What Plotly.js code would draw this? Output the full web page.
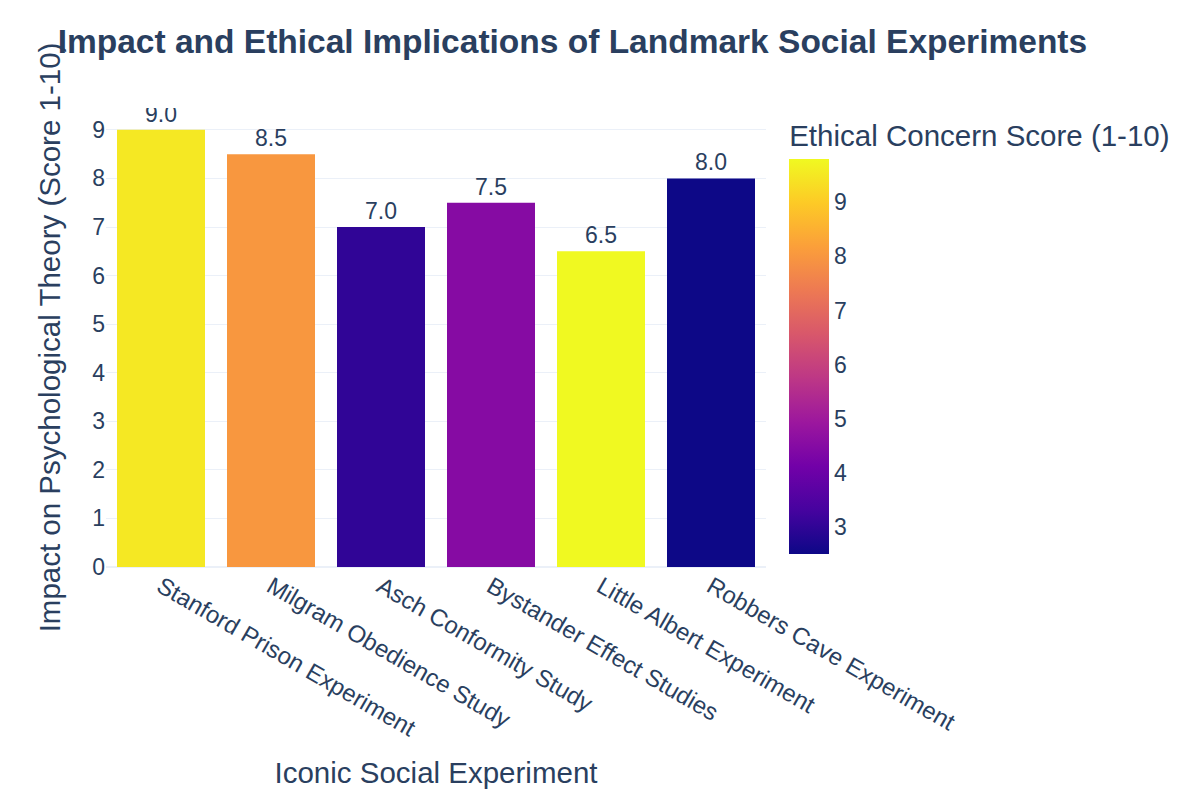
<!DOCTYPE html>
<html>
<head>
<meta charset="utf-8">
<script src="https://cdn.plot.ly/plotly-3.0.1.min.js"></script>
<style>
  html, body { margin: 0; padding: 0; background: #ffffff; }
  #chart { width: 1200px; height: 800px; }
</style>
</head>
<body>
<div id="chart"></div>
<script>
// Landmark social experiments: impact on theory vs. ethical concern
const experiments = [
  "Stanford Prison Experiment",
  "Milgram Obedience Study",
  "Asch Conformity Study",
  "Bystander Effect Studies",
  "Little Albert Experiment",
  "Robbers Cave Experiment"
];
const impactScores = [9.0, 8.5, 7.0, 7.5, 6.5, 8.0];
const ethicalScores = [9.5, 8.0, 3.0, 4.5, 9.8, 2.5];
const yTickValues = [0, 1, 2, 3, 4, 5, 6, 7, 8, 9];

// Plasma colour ramp
const plasmaScale = [
  [0.0, "#0d0887"], [0.1111, "#46039f"], [0.2222, "#7201a8"],
  [0.3333, "#9c179e"], [0.4444, "#bd3786"], [0.5556, "#d8576b"],
  [0.6667, "#ed7953"], [0.7778, "#fb9f3a"], [0.8889, "#fdca26"],
  [1.0, "#f0f921"]
];

const fontFamily = "Arial, 'Liberation Sans', sans-serif";
const textColor = "#2a3f5f";

const trace = {
  type: "bar",
  x: experiments,
  y: impactScores,
  texttemplate: "%{y:.1f}",
  textposition: "outside",
  textfont: { family: fontFamily, size: 23, color: textColor },
  marker: {
    color: ethicalScores,
    colorscale: plasmaScale,
    showscale: true,
    colorbar: {
      title: {
        text: "Ethical Concern Score (1-10)",
        side: "top",
        font: { family: fontFamily, size: 29.5, color: textColor }
      },
      thickness: 40,
      ypad: 13,
      outlinewidth: 0,
      tickfont: { family: fontFamily, size: 23, color: textColor }
    }
  },
  hovertemplate: "%{x}<br>Impact: %{y}<br>Ethics: %{marker.color}<extra></extra>"
};

const layout = {
  template: "plotly_white",
  width: 1200,
  height: 800,
  paper_bgcolor: "#ffffff",
  plot_bgcolor: "#ffffff",
  font: { family: fontFamily, color: textColor },
  margin: { l: 106, r: 434, t: 108, b: 233, pad: 0 },
  title: {
    text: "<b>Impact and Ethical Implications of Landmark Social Experiments</b>",
    x: 0.477,
    xanchor: "center",
    xref: "container",
    y: 0.948,
    yanchor: "middle",
    yref: "container",
    font: { family: fontFamily, size: 33.5, color: textColor }
  },
  bargap: 0.2,
  xaxis: {
    title: {
      text: "Iconic Social Experiment",
      font: { family: fontFamily, size: 29.5, color: textColor },
      standoff: 21
    },
    tickangle: 30,
    tickfont: { family: fontFamily, size: 24, color: textColor },
    automargin: false
  },
  yaxis: {
    title: {
      text: "Impact on Psychological Theory (Score 1-10)",
      font: { family: fontFamily, size: 29.5, color: textColor },
      standoff: 22
    },
    range: [0, 9.45],
    tickvals: yTickValues,
    tickfont: { family: fontFamily, size: 23, color: textColor },
    gridcolor: "#EBF0F8",
    zerolinecolor: "#EBF0F8",
    zerolinewidth: 2,
    automargin: false
  },
  showlegend: false
};

Plotly.newPlot("chart", [trace], layout, { displayModeBar: false, responsive: false });
</script>
</body>
</html>
